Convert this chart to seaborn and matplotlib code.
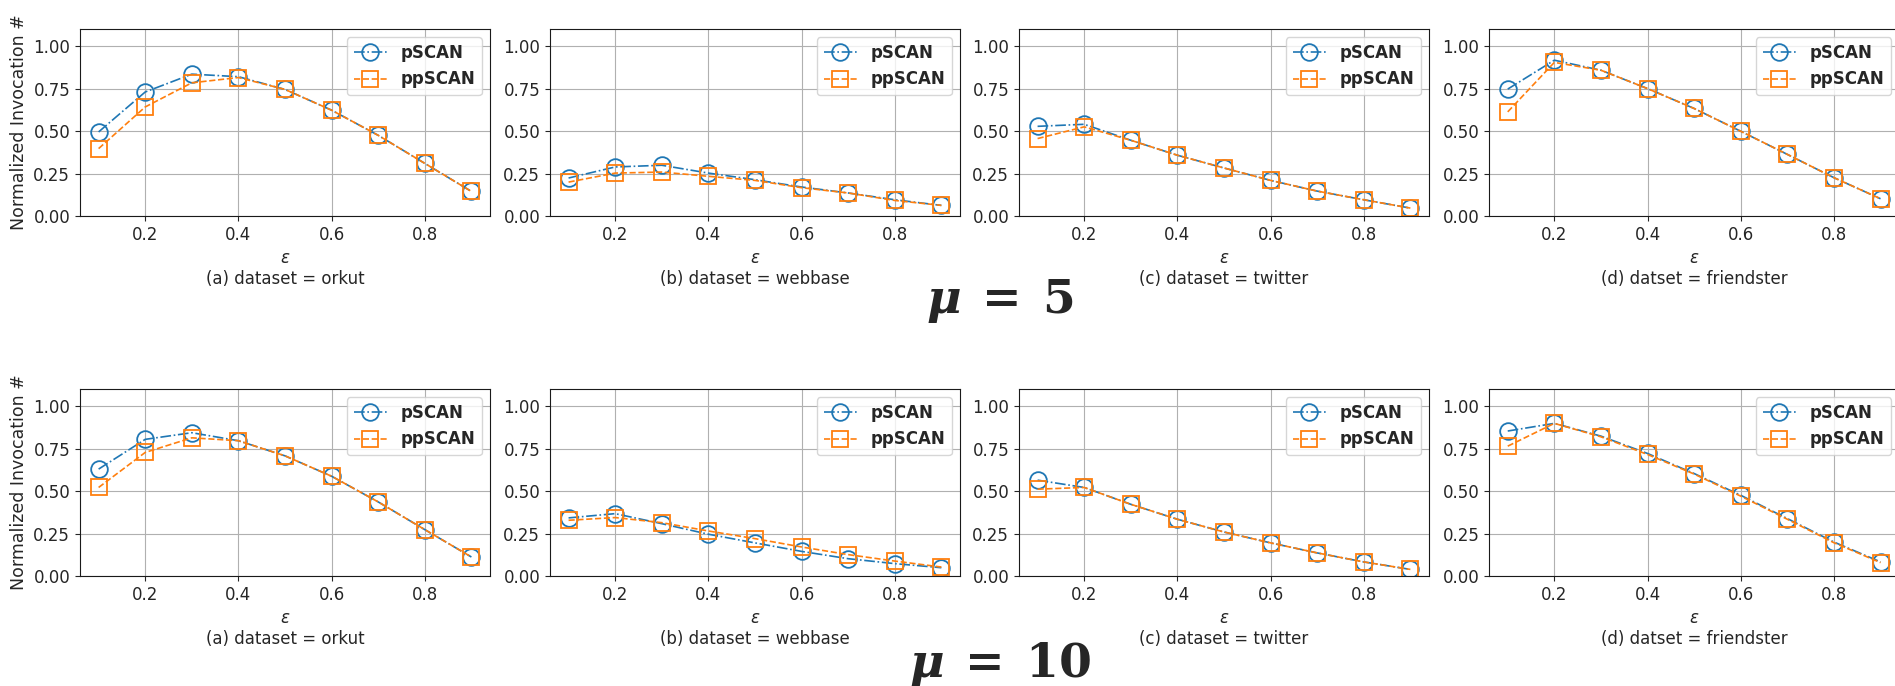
import matplotlib
matplotlib.use("Agg")
import matplotlib.pyplot as plt
import seaborn as sns
import pandas as pd

eps = [0.1, 0.2, 0.3, 0.4, 0.5, 0.6, 0.7, 0.8, 0.9]
captions = ["(a) dataset = orkut", "(b) dataset = webbase",
            "(c) dataset = twitter", "(d) datset = friendster"]

# mu = 5
pscan_mu5 = [
    [0.495, 0.73, 0.835, 0.82, 0.745, 0.623, 0.475, 0.31, 0.145],
    [0.224, 0.289, 0.299, 0.253, 0.214, 0.171, 0.136, 0.096, 0.063],
    [0.528, 0.54, 0.446, 0.358, 0.283, 0.21, 0.147, 0.096, 0.047],
    [0.747, 0.917, 0.858, 0.75, 0.633, 0.499, 0.363, 0.226, 0.102],
]
ppscan_mu5 = [
    [0.397, 0.642, 0.784, 0.815, 0.745, 0.623, 0.475, 0.31, 0.145],
    [0.20, 0.253, 0.259, 0.234, 0.21, 0.167, 0.136, 0.092, 0.063],
    [0.456, 0.525, 0.446, 0.358, 0.283, 0.21, 0.147, 0.096, 0.047],
    [0.613, 0.904, 0.858, 0.75, 0.633, 0.499, 0.363, 0.226, 0.102],
]

# mu = 10
pscan_mu10 = [
    [0.629, 0.804, 0.843, 0.796, 0.707, 0.587, 0.436, 0.273, 0.112],
    [0.342, 0.367, 0.308, 0.246, 0.195, 0.145, 0.102, 0.073, 0.049],
    [0.564, 0.521, 0.422, 0.334, 0.259, 0.195, 0.136, 0.083, 0.039],
    [0.853, 0.898, 0.823, 0.721, 0.603, 0.475, 0.338, 0.20, 0.083],
]
ppscan_mu10 = [
    [0.521, 0.727, 0.813, 0.796, 0.707, 0.587, 0.436, 0.273, 0.112],
    [0.328, 0.344, 0.314, 0.265, 0.22, 0.171, 0.126, 0.088, 0.053],
    [0.511, 0.521, 0.422, 0.334, 0.259, 0.195, 0.136, 0.083, 0.039],
    [0.764, 0.898, 0.819, 0.715, 0.60, 0.47, 0.334, 0.196, 0.079],
]

sns.set_style("ticks", {"axes.grid": True, "grid.color": "#b0b0b0",
                        "axes.edgecolor": "0.1"})
plt.rcParams["font.family"] = ["DejaVu Sans"]

fig = plt.figure(figsize=(18.95, 6.86), dpi=100)

lefts = [0.0422, 0.2902, 0.5377, 0.7858]
bottoms = [0.685, 0.1603]
rows = [(pscan_mu5, ppscan_mu5), (pscan_mu10, ppscan_mu10)]

for r, (ps, pp) in enumerate(rows):
    for c in range(4):
        ax = fig.add_axes([lefts[c], bottoms[r], 0.2164, 0.2726])
        df = pd.DataFrame({"eps": eps, "pSCAN": ps[c], "ppSCAN": pp[c]})
        sns.lineplot(data=df, x="eps", y="pSCAN", ax=ax, color="#1f77b4",
                     linestyle="-.", marker="o", markersize=12,
                     markerfacecolor="none", markeredgecolor="#1f77b4",
                     markeredgewidth=1.3, linewidth=1.2, label="pSCAN")
        sns.lineplot(data=df, x="eps", y="ppSCAN", ax=ax, color="#ff7f0e",
                     linestyle="--", marker="s", markersize=12,
                     markerfacecolor="none", markeredgecolor="#ff7f0e",
                     markeredgewidth=1.3, linewidth=1.2, label="ppSCAN")
        ax.set_ylim(0, 1.1)
        ax.set_xticks([0.2, 0.4, 0.6, 0.8])
        ax.set_yticks([0, 0.25, 0.5, 0.75, 1.0])
        ax.tick_params(labelsize=12)
        ax.set_xlabel("$\\varepsilon$\n" + captions[c], fontsize=12)
        if c == 0:
            ax.set_ylabel("Normalized Invocation #", fontsize=12.5)
        else:
            ax.set_ylabel("")
        for s in ax.spines.values():
            s.set_visible(True)
        ax.legend(loc="upper right", prop={"weight": "bold", "size": 12})

fig.text(0.528, 0.561, r"$\boldsymbol{\mu}\;\mathbf{=}\;\mathbf{5}$",
         fontsize=34, ha="center", va="center", math_fontfamily="dejavuserif")
fig.text(0.528, 0.032, r"$\boldsymbol{\mu}\;\mathbf{=}\;\mathbf{10}$",
         fontsize=34, ha="center", va="center", math_fontfamily="dejavuserif")

fig.savefig("out.png", dpi=100)
